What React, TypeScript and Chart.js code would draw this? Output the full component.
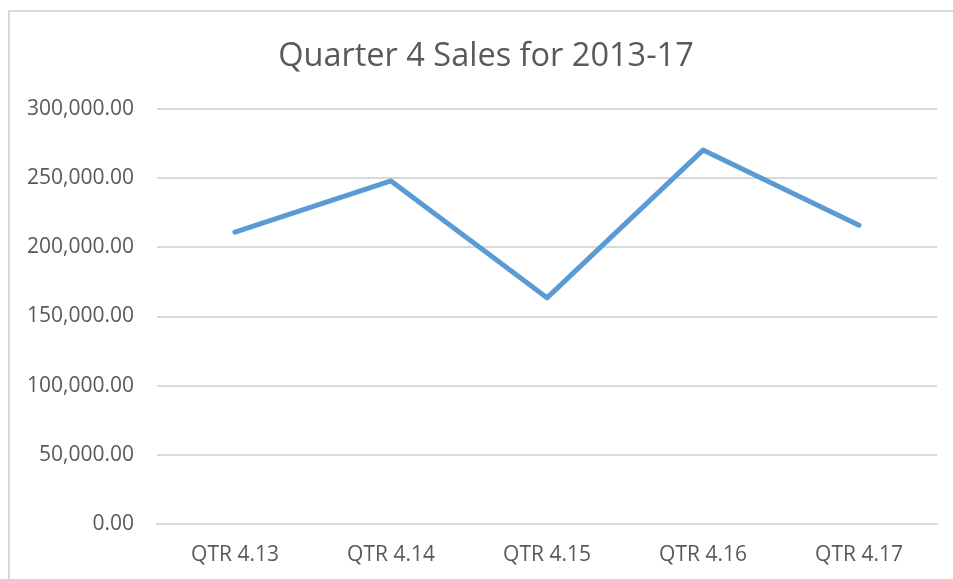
import React, { useEffect, useRef } from "react";
import { Chart, registerables } from "chart.js";

Chart.register(...registerables);

const categories = ["QTR 4.13", "QTR 4.14", "QTR 4.15", "QTR 4.16", "QTR 4.17"];
const sales = [211000, 248000, 163500, 270300, 216000];
const yTicks = [0, 50000, 100000, 150000, 200000, 250000, 300000];
const chartTitle = "Quarter 4 Sales for 2013-17";

const FONT = "'Open Sans', 'Liberation Sans', sans-serif";
const TEXT = "#595959";
const GRID = "#d9d9d9";

const titlePlugin = {
  id: "centeredTitle",
  afterDraw(chart: any) {
    const ctx = chart.ctx;
    ctx.save();
    ctx.font = `normal 32.5px ${FONT}`;
    ctx.fillStyle = TEXT;
    ctx.textAlign = "center";
    ctx.textBaseline = "middle";
    ctx.fillText(chartTitle, 476, 44.5);
    ctx.restore();
  },
};

export default function App() {
  const ref = useRef<HTMLCanvasElement | null>(null);

  useEffect(() => {
    if (!ref.current) return;
    const chart = new Chart(ref.current, {
      type: "line",
      data: {
        labels: categories,
        datasets: [
          {
            label: "Sales",
            data: sales,
            borderColor: "#5B9BD5",
            backgroundColor: "#5B9BD5",
            borderWidth: 5,
            pointRadius: 0,
            pointHoverRadius: 0,
            borderCapStyle: "round",
            borderJoinStyle: "round",
            tension: 0,
          },
        ],
      },
      plugins: [titlePlugin],
      options: {
        animation: false,
        responsive: false,
        maintainAspectRatio: false,
        layout: { padding: { left: 0, right: 16, top: 97, bottom: 0 } },
        plugins: {
          legend: { display: false },
          tooltip: { enabled: false },
          title: { display: false },
        },
        scales: {
          x: {
            offset: true,
            grid: { display: false, drawTicks: false },
            border: { display: true, color: GRID, width: 2 },
            ticks: {
              color: TEXT,
              font: { family: FONT, size: 21 },
              padding: 18,
              maxRotation: 0,
              autoSkip: false,
            },
            afterFit: (scale: any) => {
              scale.height = 55;
            },
          },
          y: {
            min: 0,
            max: 300000,
            grid: { color: GRID, lineWidth: 2, drawTicks: false },
            border: { display: false },
            afterBuildTicks: (scale: any) => {
              scale.ticks = yTicks.map((v) => ({ value: v }));
            },
            ticks: {
              color: TEXT,
              font: { family: FONT, size: 21 },
              padding: 23,
              callback: (v: any) =>
                Number(v).toLocaleString("en-US", {
                  minimumFractionDigits: 2,
                  maximumFractionDigits: 2,
                }),
            },
            afterFit: (scale: any) => {
              scale.width = 147;
            },
          },
        },
      },
    });
    return () => chart.destroy();
  }, []);

  return (
    <div
      style={{
        position: "fixed",
        left: 8,
        top: 10,
        width: 1000,
        height: 1000,
        borderLeft: `2px solid ${GRID}`,
        borderTop: `2px solid ${GRID}`,
        background: "#fff",
      }}
    >
      <canvas ref={ref} width={943} height={567} style={{ display: "block" }} />
    </div>
  );
}
